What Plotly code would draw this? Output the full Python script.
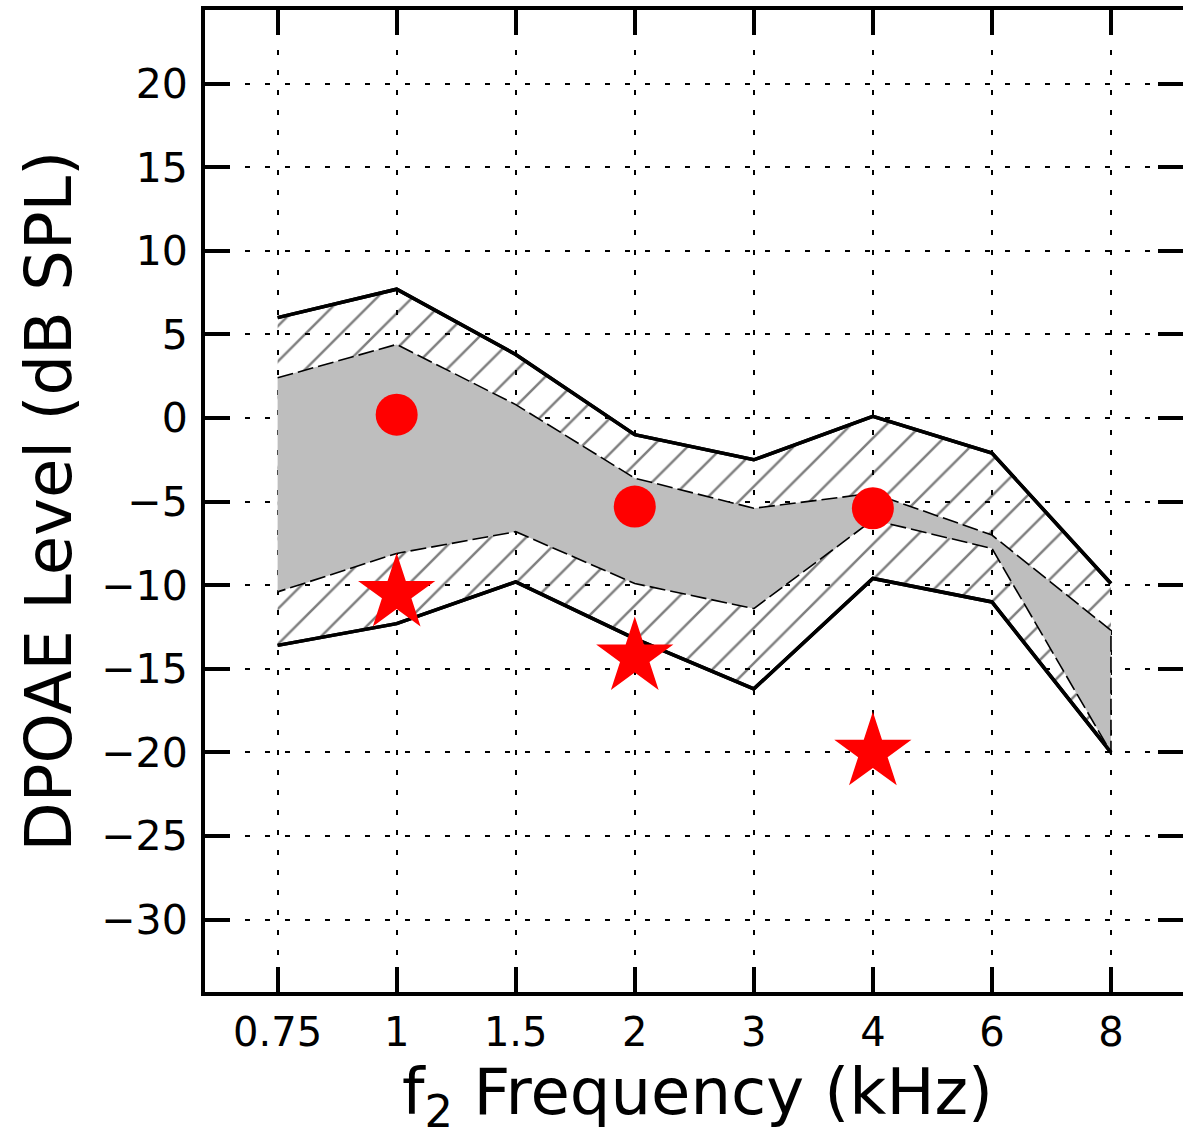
import plotly.graph_objects as go

# ---- data ----
freqs = ["0.75", "1", "1.5", "2", "3", "4", "6", "8"]
outer_upper = [6.0, 7.7, 3.8, -1.0, -2.5, 0.1, -2.1, -9.9]
outer_lower = [-13.6, -12.3, -9.8, -13.2, -16.2, -9.6, -11.0, -20.0]
band_upper = [2.4, 4.4, 0.8, -3.6, -5.4, -4.5, -7.0, -12.7]
band_lower = [-10.4, -8.1, -6.8, -9.9, -11.4, -6.1, -7.8, -20.0]

dot_freqs = ["1", "2", "4"]
dot_vals = [0.2, -5.3, -5.4]
star_freqs = ["1", "2", "4"]
star_vals = [-10.5, -14.3, -20.0]

y_ticks = [-30, -25, -20, -15, -10, -5, 0, 5, 10, 15, 20]

FONT = "DejaVu Sans"

fig = go.Figure()

# hatched outer region
fig.add_trace(go.Scatter(
    x=freqs, y=outer_upper, mode="lines",
    line=dict(color="black", width=3.5), showlegend=False, hoverinfo="skip"))
fig.add_trace(go.Scatter(
    x=freqs, y=outer_lower, mode="lines",
    line=dict(color="black", width=3.5), fill="tonexty",
    fillcolor="rgba(0,0,0,0)",
    fillpattern=dict(shape="/", fgcolor="black", bgcolor="rgba(0,0,0,0)",
                     size=25, solidity=0.1),
    showlegend=False, hoverinfo="skip"))

# gray inner band (closed polygon)
fig.add_trace(go.Scatter(
    x=freqs + freqs[::-1], y=band_upper + band_lower[::-1],
    mode="lines", fill="toself", fillcolor="#bebebe",
    line=dict(color="black", width=1.6, dash="16px,5px"),
    showlegend=False, hoverinfo="skip"))

# re-draw solid outer lines on top
fig.add_trace(go.Scatter(
    x=freqs, y=outer_upper, mode="lines",
    line=dict(color="black", width=3.5), showlegend=False, hoverinfo="skip"))
fig.add_trace(go.Scatter(
    x=freqs, y=outer_lower, mode="lines",
    line=dict(color="black", width=3.5), showlegend=False, hoverinfo="skip"))

# markers
fig.add_trace(go.Scatter(
    x=dot_freqs, y=dot_vals, mode="markers",
    marker=dict(symbol="circle", size=42, color="#ff0000", line=dict(width=0)),
    showlegend=False))
fig.add_trace(go.Scatter(
    x=star_freqs, y=star_vals, mode="markers",
    marker=dict(symbol="star", size=58, color="#ff0000", line=dict(width=0)),
    showlegend=False))

# dummy trace for right-side ticks
fig.add_trace(go.Scatter(x=[None], y=[None], yaxis="y2", showlegend=False,
                         hoverinfo="skip"))

yr = [-34.33, 24.4]

fig.update_layout(
    width=1183, height=1134,
    margin=dict(l=205, r=0, t=10, b=142),
    paper_bgcolor="white", plot_bgcolor="white",
    font=dict(family=FONT, color="black"),
    xaxis=dict(
        type="category", categoryorder="array", categoryarray=freqs,
        range=[-0.61, 7.605],
        showline=True, linecolor="black", linewidth=4, mirror="ticks",
        ticks="inside", ticklen=25, tickwidth=4, tickcolor="black",
        showgrid=True, gridcolor="black", gridwidth=2, griddash="5px,15px",
        tickfont=dict(size=40, family=FONT, color="black"),
        ticklabelstandoff=2, zeroline=False,
    ),
    yaxis=dict(
        range=yr, tickvals=y_ticks,
        showline=True, linecolor="black", linewidth=4, mirror=False,
        ticks="inside", ticklen=25, tickwidth=4, tickcolor="black",
        showgrid=True, gridcolor="black", gridwidth=2, griddash="5px,15px",
        tickfont=dict(size=41, family=FONT, color="black"),
        ticklabelstandoff=5, zeroline=False,
    ),
    yaxis2=dict(
        range=yr, tickvals=y_ticks, overlaying="y", side="right",
        showline=False, ticks="inside", ticklen=25, tickwidth=4,
        tickcolor="black", showticklabels=False, showgrid=False,
        zeroline=False,
    ),
    annotations=[
        dict(text="DPOAE Level (dB SPL)", xref="paper", yref="paper",
             x=-0.159, y=0.5, xanchor="center", yanchor="middle",
             textangle=-90, showarrow=False,
             font=dict(size=64, family=FONT, color="black")),
        dict(text="f<sub>2</sub> Frequency (kHz)", xref="paper", yref="paper",
             x=0.504, y=-0.106, xanchor="center", yanchor="middle",
             showarrow=False,
             font=dict(size=64, family=FONT, color="black")),
    ],
)

fig.write_html("out.html",
               config={"displayModeBar": False},
               post_script="document.body.style.margin='0';"
                           "document.body.style.overflow='hidden';")
